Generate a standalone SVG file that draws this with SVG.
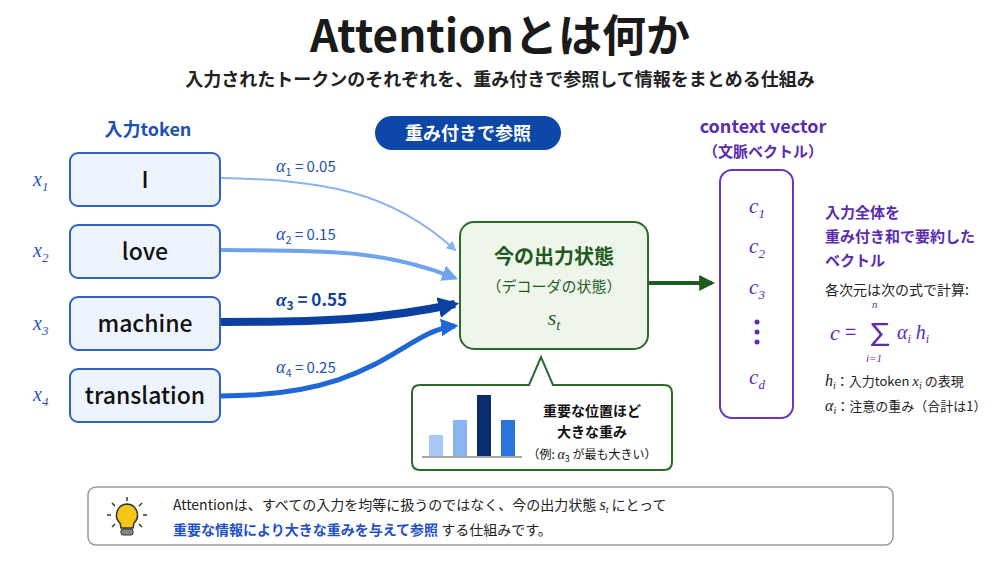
<svg xmlns="http://www.w3.org/2000/svg" width="1000" height="563" viewBox="0 0 1000 563">
<style>
text{font-family:"Noto Sans CJK JP","Noto Sans",sans-serif}
.m{font-family:"Liberation Serif","DejaVu Serif",serif;font-style:italic}
.tok rect{fill:#eef4fd;stroke:#2f62c8;stroke-width:2}
.tok text{font-size:23px;fill:#111;text-anchor:middle;font-weight:500}
.xl{font-size:20px;fill:#2a55b8}
.al{font-size:15px;fill:#1f50b5}
.pu{fill:#5b2bb0}
</style>
<defs>
<marker id="a1" viewBox="0 0 10 10" refX="8" refY="5" markerWidth="5" markerHeight="5" orient="auto" markerUnits="strokeWidth"><path d="M0,0L10,5L0,10z" fill="#8ab4f0"/></marker>
<marker id="a2" viewBox="0 0 10 10" refX="8" refY="5" markerWidth="4" markerHeight="4" orient="auto" markerUnits="strokeWidth"><path d="M0,0L10,5L0,10z" fill="#6fa3ee"/></marker>
<marker id="a3" viewBox="0 0 10 10" refX="8" refY="5" markerWidth="2.6" markerHeight="2.6" orient="auto" markerUnits="strokeWidth"><path d="M0,0L10,5L0,10z" fill="#0b3fa0"/></marker>
<marker id="a4" viewBox="0 0 10 10" refX="8" refY="5" markerWidth="3.5" markerHeight="3.5" orient="auto" markerUnits="strokeWidth"><path d="M0,0L10,5L0,10z" fill="#1f66d6"/></marker>
<marker id="ag" viewBox="0 0 10 10" refX="8" refY="5" markerWidth="4" markerHeight="4" orient="auto" markerUnits="strokeWidth"><path d="M0,0L10,5L0,10z" fill="#1f5a1f"/></marker>
</defs>
<rect width="1000" height="563" fill="#fff"/>
<text x="500" y="52" font-size="44" font-weight="bold" text-anchor="middle" fill="#1a1a1a">Attentionとは何か</text>
<text x="500" y="86" font-size="18" font-weight="bold" text-anchor="middle" fill="#222">入力されたトークンのそれぞれを、重み付きで参照して情報をまとめる仕組み</text>
<text x="148" y="136" font-size="18" font-weight="bold" text-anchor="middle" fill="#1f50b5">入力token</text>
<g id="pill"><rect x="375" y="116" width="186" height="34" rx="17" fill="#0d47a8"/><text x="468" y="140" font-size="18" font-weight="bold" text-anchor="middle" fill="#fff">重み付きで参照</text></g>
<g id="tok1" class="tok"><rect x="70" y="153" width="150" height="53" rx="8"/><text x="145" y="188" font-family="Liberation Serif,serif">I</text></g>
<g id="tok2" class="tok"><rect x="70" y="225" width="150" height="53" rx="8"/><text x="145" y="260">love</text></g>
<g id="tok3" class="tok"><rect x="70" y="297" width="150" height="53" rx="8"/><text x="145" y="332">machine</text></g>
<g id="tok4" class="tok"><rect x="70" y="369" width="150" height="53" rx="8"/><text x="145" y="404">translation</text></g>
<g class="xl">
<text x="33" y="186" class="m">x<tspan font-size="13" dy="5">1</tspan></text>
<text x="33" y="257" class="m">x<tspan font-size="13" dy="5">2</tspan></text>
<text x="33" y="330" class="m">x<tspan font-size="13" dy="5">3</tspan></text>
<text x="33" y="401" class="m">x<tspan font-size="13" dy="5">4</tspan></text>
</g>
<g id="connectors" fill="none">
<path d="M221,178 C320,180 390,190 455,250" stroke="#8ab4f0" stroke-width="2" marker-end="url(#a1)"/>
<path d="M221,250 C320,251 380,248 455,278" stroke="#6fa3ee" stroke-width="4" marker-end="url(#a2)"/>
<path d="M221,322 C320,322 380,320 455,304" stroke="#0b3fa0" stroke-width="8" marker-end="url(#a3)"/>
<path d="M221,396 C380,396 400,332 455,326" stroke="#1f66d6" stroke-width="5" marker-end="url(#a4)"/>
<path d="M649,283 L712,283" stroke="#1f5a1f" stroke-width="4" marker-end="url(#ag)"/>
</g>
<g class="al">
<text x="276" y="172"><tspan class="m" font-size="18">α</tspan><tspan font-size="11" dy="4">1</tspan><tspan dy="-4"> = 0.05</tspan></text>
<text x="276" y="240"><tspan class="m" font-size="18">α</tspan><tspan font-size="11" dy="4">2</tspan><tspan dy="-4"> = 0.15</tspan></text>
<text x="276" y="306" font-size="17" font-weight="bold" fill="#0d3f9e"><tspan class="m" font-size="19">α</tspan><tspan font-size="12" dy="4">3</tspan><tspan dy="-4"> = 0.55</tspan></text>
<text x="276" y="373"><tspan class="m" font-size="18">α</tspan><tspan font-size="11" dy="4">4</tspan><tspan dy="-4"> = 0.25</tspan></text>
</g>
<g id="state"><rect x="460" y="222" width="188" height="127" rx="14" fill="#eef6ea" stroke="#2c6a2c" stroke-width="2"/>
<text x="554" y="264" font-size="20" font-weight="bold" text-anchor="middle" fill="#1f5a1f">今の出力状態</text>
<text x="554" y="292" font-size="15" text-anchor="middle" fill="#1f5a1f">（デコーダの状態）</text>
<text x="554" y="325" font-size="22" text-anchor="middle" fill="#1f5a1f" class="m">s<tspan font-size="15" dy="5">t</tspan></text></g>
<g id="bubble"><path d="M420,385 H529 L541,357 L553,385 H664 Q672,385 672,393 V462 Q672,470 664,470 H420 Q412,470 412,462 V393 Q412,385 420,385Z" fill="#fff" stroke="#2c6a2c" stroke-width="2"/>
<rect x="429" y="435" width="14" height="21" fill="#a9c8f5"/><rect x="453" y="420" width="14" height="36" fill="#8ab4f0"/><rect x="477" y="395" width="14" height="61" fill="#0a2d6e"/><rect x="501" y="420" width="14" height="36" fill="#2a75dc"/>
<line x1="422" y1="457" x2="522" y2="457" stroke="#888" stroke-width="1.5"/>
<text x="592" y="416" font-size="14" font-weight="bold" text-anchor="middle" fill="#111">重要な位置ほど</text>
<text x="592" y="437" font-size="14" font-weight="bold" text-anchor="middle" fill="#111">大きな重み</text>
<text x="592" y="459" font-size="12" text-anchor="middle" fill="#111">（例: <tspan class="m" font-size="14">α</tspan><tspan font-size="9" dy="3">3</tspan><tspan dy="-3"> が最も大きい）</tspan></text></g>
<text x="763" y="133" font-size="18" font-weight="bold" text-anchor="middle" class="pu">context vector</text>
<text x="763" y="157" font-size="15" font-weight="bold" text-anchor="middle" class="pu">（文脈ベクトル）</text>
<g id="ctx"><rect x="720" y="170" width="73" height="248" rx="12" fill="#fff" stroke="#6a35c0" stroke-width="2"/>
<g font-size="21" text-anchor="middle">
<text x="757" y="213" class="m pu">c<tspan font-size="13" dy="5">1</tspan></text>
<text x="757" y="253" class="m pu">c<tspan font-size="13" dy="5">2</tspan></text>
<text x="757" y="294" class="m pu">c<tspan font-size="13" dy="5">3</tspan></text>
<text x="757" y="384" class="m pu">c<tspan font-size="13" dy="5">d</tspan></text></g>
<circle cx="757" cy="322" r="2.5" fill="#5b2bb0"/><circle cx="757" cy="332" r="2.5" fill="#5b2bb0"/><circle cx="757" cy="342" r="2.5" fill="#5b2bb0"/></g>
<g id="note" class="pu" font-weight="bold" font-size="15">
<text x="825" y="218">入力全体を</text><text x="825" y="242">重み付き和で要約した</text><text x="825" y="266">ベクトル</text></g>
<text x="825" y="295" font-size="14" fill="#222">各次元は次の式で計算:</text>
<g id="formula" class="pu">
<text x="830" y="340" font-size="22" class="m">c</text><text x="845" y="339" font-size="20">=</text>
<text x="865" y="345" font-size="30" font-family="DejaVu Sans,sans-serif">∑</text>
<text x="872" y="308" font-size="11" class="m">n</text><text x="866" y="362" font-size="11" class="m">i=1</text>
<text x="897" y="339" font-size="20" class="m">α<tspan font-size="12" dy="4">i</tspan><tspan dy="-4"> h</tspan><tspan font-size="12" dy="4">i</tspan></text></g>
<text x="825" y="386" font-size="13" fill="#222"><tspan class="m" font-size="16">h</tspan><tspan class="m" font-size="10" dy="3">i</tspan><tspan dy="-3">：入力token </tspan><tspan class="m" font-size="15">x</tspan><tspan class="m" font-size="10" dy="3">i</tspan><tspan dy="-3"> の表現</tspan></text>
<text x="825" y="411" font-size="13" fill="#222"><tspan class="m" font-size="16">α</tspan><tspan class="m" font-size="10" dy="3">i</tspan><tspan dy="-3">：注意の重み（合計は1）</tspan></text>
<g id="summary"><rect x="88" y="487" width="805" height="58" rx="8" fill="#fff" stroke="#999" stroke-width="1.5"/>
<g stroke="#333" stroke-width="1.5"><line x1="127" y1="497" x2="127" y2="501"/><line x1="112" y1="503" x2="115" y2="506"/><line x1="142" y1="503" x2="139" y2="506"/><line x1="107" y1="515" x2="111" y2="515"/><line x1="143" y1="515" x2="147" y2="515"/><line x1="112" y1="527" x2="115" y2="524"/><line x1="142" y1="527" x2="139" y2="524"/></g>
<path d="M127,504 a11,11 0 0 1 7,19 l-1,5 h-12 l-1,-5 a11,11 0 0 1 7,-19z" fill="#f5c518" stroke="#333" stroke-width="1.5"/>
<rect x="121" y="529" width="12" height="6" rx="2" fill="#888" stroke="#333"/>
<text x="173" y="510" font-size="14" fill="#222">Attentionは、すべての入力を均等に扱うのではなく、今の出力状態 <tspan class="m" font-size="16">s</tspan><tspan class="m" font-size="10" dy="3">t</tspan><tspan dy="-3"> にとって</tspan></text>
<text x="173" y="535" font-size="14" fill="#222"><tspan font-weight="bold" fill="#1f50c8">重要な情報により大きな重みを与えて参照</tspan> する仕組みです。</text></g>
</svg>
